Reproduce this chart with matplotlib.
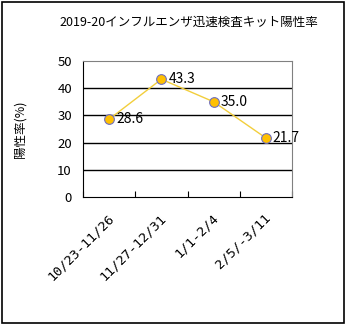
import matplotlib
matplotlib.use('Agg')
import matplotlib.pyplot as plt
from matplotlib.patches import Rectangle

plt.rcParams['font.family'] = ['Noto Sans CJK JP', 'DejaVu Sans']

# data
periods = ['10/23-11/26', '11/27-12/31', '1/1-2/4', '2/5/-3/11']
positive_rate = [28.6, 43.3, 35.0, 21.7]
yticks = [0, 10, 20, 30, 40, 50]

fig = plt.figure(figsize=(3.52, 3.26), dpi=100)

# outer frame of the chart
fig.patches.append(Rectangle((2/352, 3/326), 342/352, 321/326, transform=fig.transFigure,
                             fill=False, edgecolor='black', linewidth=1.2))

ax = fig.add_axes([83/352, 1 - 197/326, 209/352, 136/326])

x = [i + 0.5 for i in range(len(periods))]
ax.plot(x, positive_rate, color='#F2CE3C', linewidth=1.0, zorder=3)
ax.plot(x, positive_rate, linestyle='none', marker='o', markersize=7,
        markerfacecolor='#FFC000', markeredgecolor='#6F6FBF', markeredgewidth=0.8, zorder=4)
for xi, v in zip(x, positive_rate):
    ax.annotate('%.1f' % v, (xi, v), xytext=(5, 0), textcoords='offset points',
                ha='left', va='center', fontsize=10, zorder=5)

ax.set_xlim(0, len(periods))
ax.set_ylim(0, 50)
ax.set_yticks(yticks)
ax.set_yticklabels([str(t) for t in yticks], fontsize=9.5)
for t in yticks[1:-1]:
    ax.axhline(t, color='black', linewidth=1.0, zorder=1)

ax.set_xticks(range(len(periods) + 1))
ax.set_xticklabels([])
ax.tick_params(axis='x', direction='in', length=4, width=0.8)
ax.tick_params(axis='y', length=0, pad=8)
# category labels, rotated 45 deg, right end under the category centre
for xi, lab in zip(x, periods):
    ax.text(xi - 0.04, -5.2, lab, rotation=45, ha='right', va='top', fontsize=9.5,
            family='DejaVu Sans Mono', rotation_mode='anchor', transform=ax.transData)

ax.spines['left'].set_color('black')
ax.spines['bottom'].set_color('black')
ax.spines['top'].set_color('#808080')
ax.spines['right'].set_color('#808080')

ax.set_ylabel('陽性率(%)', fontsize=9, labelpad=22)
fig.text(189/352, 1 - 22/326, '2019-20インフルエンザ迅速検査キット陽性率', ha='center', va='center', fontsize=9)

fig.savefig('out.png', dpi=100)
